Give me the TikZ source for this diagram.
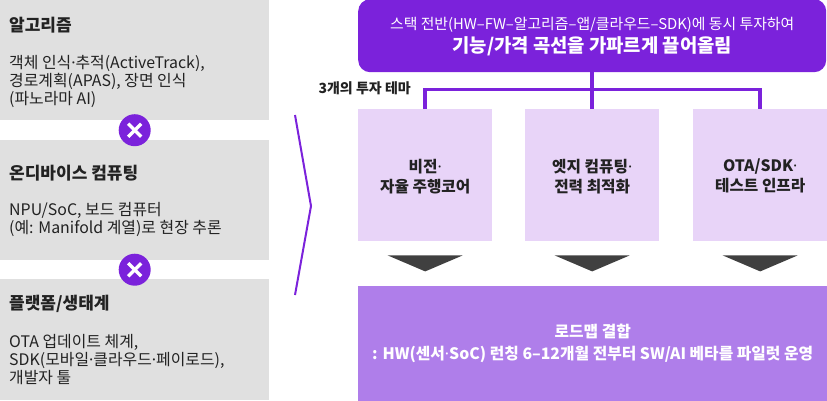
\documentclass[tikz,border=0pt]{standalone}
\usepackage{fontspec}
\setmainfont{Noto Sans CJK KR}
\newfontfamily\dotfont{Noto Sans}
\newcommand{\mdot}{{\dotfont ·}}
\usetikzlibrary{calc}
\definecolor{panelgray}{HTML}{E0E0E0}
\definecolor{deeppurple}{HTML}{7B22DB}
\definecolor{lightpurple}{HTML}{E8D4F8}
\definecolor{midpurple}{HTML}{AF7EEA}
\definecolor{tridark}{HTML}{404040}
\definecolor{textdark}{HTML}{222222}
\begin{document}
\begin{tikzpicture}[x=1pt,y=-1pt,
  panel/.style={fill=panelgray, draw=none, anchor=north west, minimum width=269pt, inner sep=0pt},
  ptitle/.style={anchor=base west, inner sep=0pt, text=textdark, font=\fontsize{17}{18}\selectfont\bfseries},
  pbody/.style={anchor=base west, inner sep=0pt, text=textdark, align=left, font=\fontsize{15.9}{18}\selectfont},
  xmark/.style={circle, fill=deeppurple, minimum size=32pt, inner sep=0pt},
  xline/.style={white, line width=3.4pt},
  theme/.style={fill=lightpurple, draw=none, anchor=north west, minimum width=134pt, minimum height=132pt, inner sep=0pt},
  themetext/.style={align=center, text=textdark, font=\fontsize{15.7}{20}\selectfont\bfseries, inner sep=0pt},
  conn/.style={deeppurple, line width=3.5pt},
  downtri/.style={fill=tridark},
  chev/.style={deeppurple, line width=2pt}]
\useasboundingbox (0,0) rectangle (827,400);

% left panels
\node[panel, minimum height=120pt] (p1) at (0,0) {};
\node[panel, minimum height=120pt] (p2) at (0,140) {};
\node[panel, minimum height=121pt] (p3) at (0,279) {};

\node[ptitle] (t1) at (9,31.5) {알고리즘};
\node[pbody] (b1t) at (9,104) {객체 인식\mdot 추적(ActiveTrack),\\경로계획(APAS), 장면 인식\\(파노라마 AI)};
\node[ptitle] (t2) at (9,179.5) {온디바이스 컴퓨팅};
\node[pbody] (b2t) at (9,233) {NPU/SoC, 보드 컴퓨터\\(예: Manifold 계열)로 현장 추론};
\node[ptitle] (t3) at (9,309.5) {플랫폼/생태계};
\node[pbody] (b3t) at (9,383) {OTA 업데이트 체계,\\SDK(모바일\mdot 클라우드\mdot 페이로드),\\개발자 툴};

% X marks
\node[xmark] (x1) at ($(p1.south)!0.5!(p2.north)$) {};
\draw[xline] ($(x1)+(-6.5,-6.5)$) -- ($(x1)+(6.5,6.5)$);
\draw[xline] ($(x1)+(-6.5,6.5)$) -- ($(x1)+(6.5,-6.5)$);
\node[xmark] (x2) at ($(p2.south)!0.5!(p3.north)$) {};
\draw[xline] ($(x2)+(-6.5,-6.5)$) -- ($(x2)+(6.5,6.5)$);
\draw[xline] ($(x2)+(-6.5,6.5)$) -- ($(x2)+(6.5,-6.5)$);

% chevron
\draw[chev, line join=miter] (295,115) -- (311,206) -- (295,295);

% top box
\node[fill=deeppurple, rounded corners=12pt, minimum width=468pt, minimum height=73pt, anchor=north west, inner sep=0pt] (top) at (358,-1) {};
\node[align=center, text=white, inner sep=0pt, font=\fontsize{14.85}{23}\selectfont] (toptext) at ($(top.center)+(0,1)$)
  {스택 전반(HW–FW–알고리즘–앱/클라우드–SDK)에 동시 투자하여\\{\fontsize{18.8}{23}\selectfont\bfseries 기능/가격 곡선을 가파르게 끌어올림}};

% theme boxes
\node[theme] (m1) at (358,109) {};
\node[theme] (m2) at (525,109) {};
\node[theme] (m3) at (693,109) {};
\node[themetext] at ($(m1.center)+(0,1)$) {비전\mdot\\자율 주행코어};
\node[themetext] at ($(m2.center)+(0,1)$) {엣지 컴퓨팅\mdot\\전력 최적화};
\node[themetext] at ($(m3.center)+(0,1)$) {OTA/SDK\mdot\\테스트 인프라};

% connectors
\draw[conn] (top.south) -- ++(0,17) coordinate (jn);
\draw[conn] (m1.north) |- (jn) -| (m3.north);
\draw[conn] (jn) -- (m2.north);
\node[anchor=base east, inner sep=0pt, text=textdark, font=\fontsize{14}{16}\selectfont\bfseries] (lbl) at (411,93.5) {3개의 투자 테마};

% triangles
\foreach \m in {m1,m2,m3}{
  \fill[downtri] ($(\m.south)+(-37.5,14)$) -- ++(75,0) -- ++(-37.5,16) -- cycle;
}

% bottom box
\node[fill=midpurple, anchor=north west, minimum width=469pt, minimum height=115pt, inner sep=0pt] (bot) at (358,286) {};
\node[align=center, text=white, inner sep=0pt, font=\fontsize{15.8}{22}\selectfont\bfseries] at (bot.center)
  {로드맵 결합\\: HW(센서\mdot SoC) 런칭 6–12개월 전부터 SW/AI 베타를 파일럿 운영};
\end{tikzpicture}
\end{document}
